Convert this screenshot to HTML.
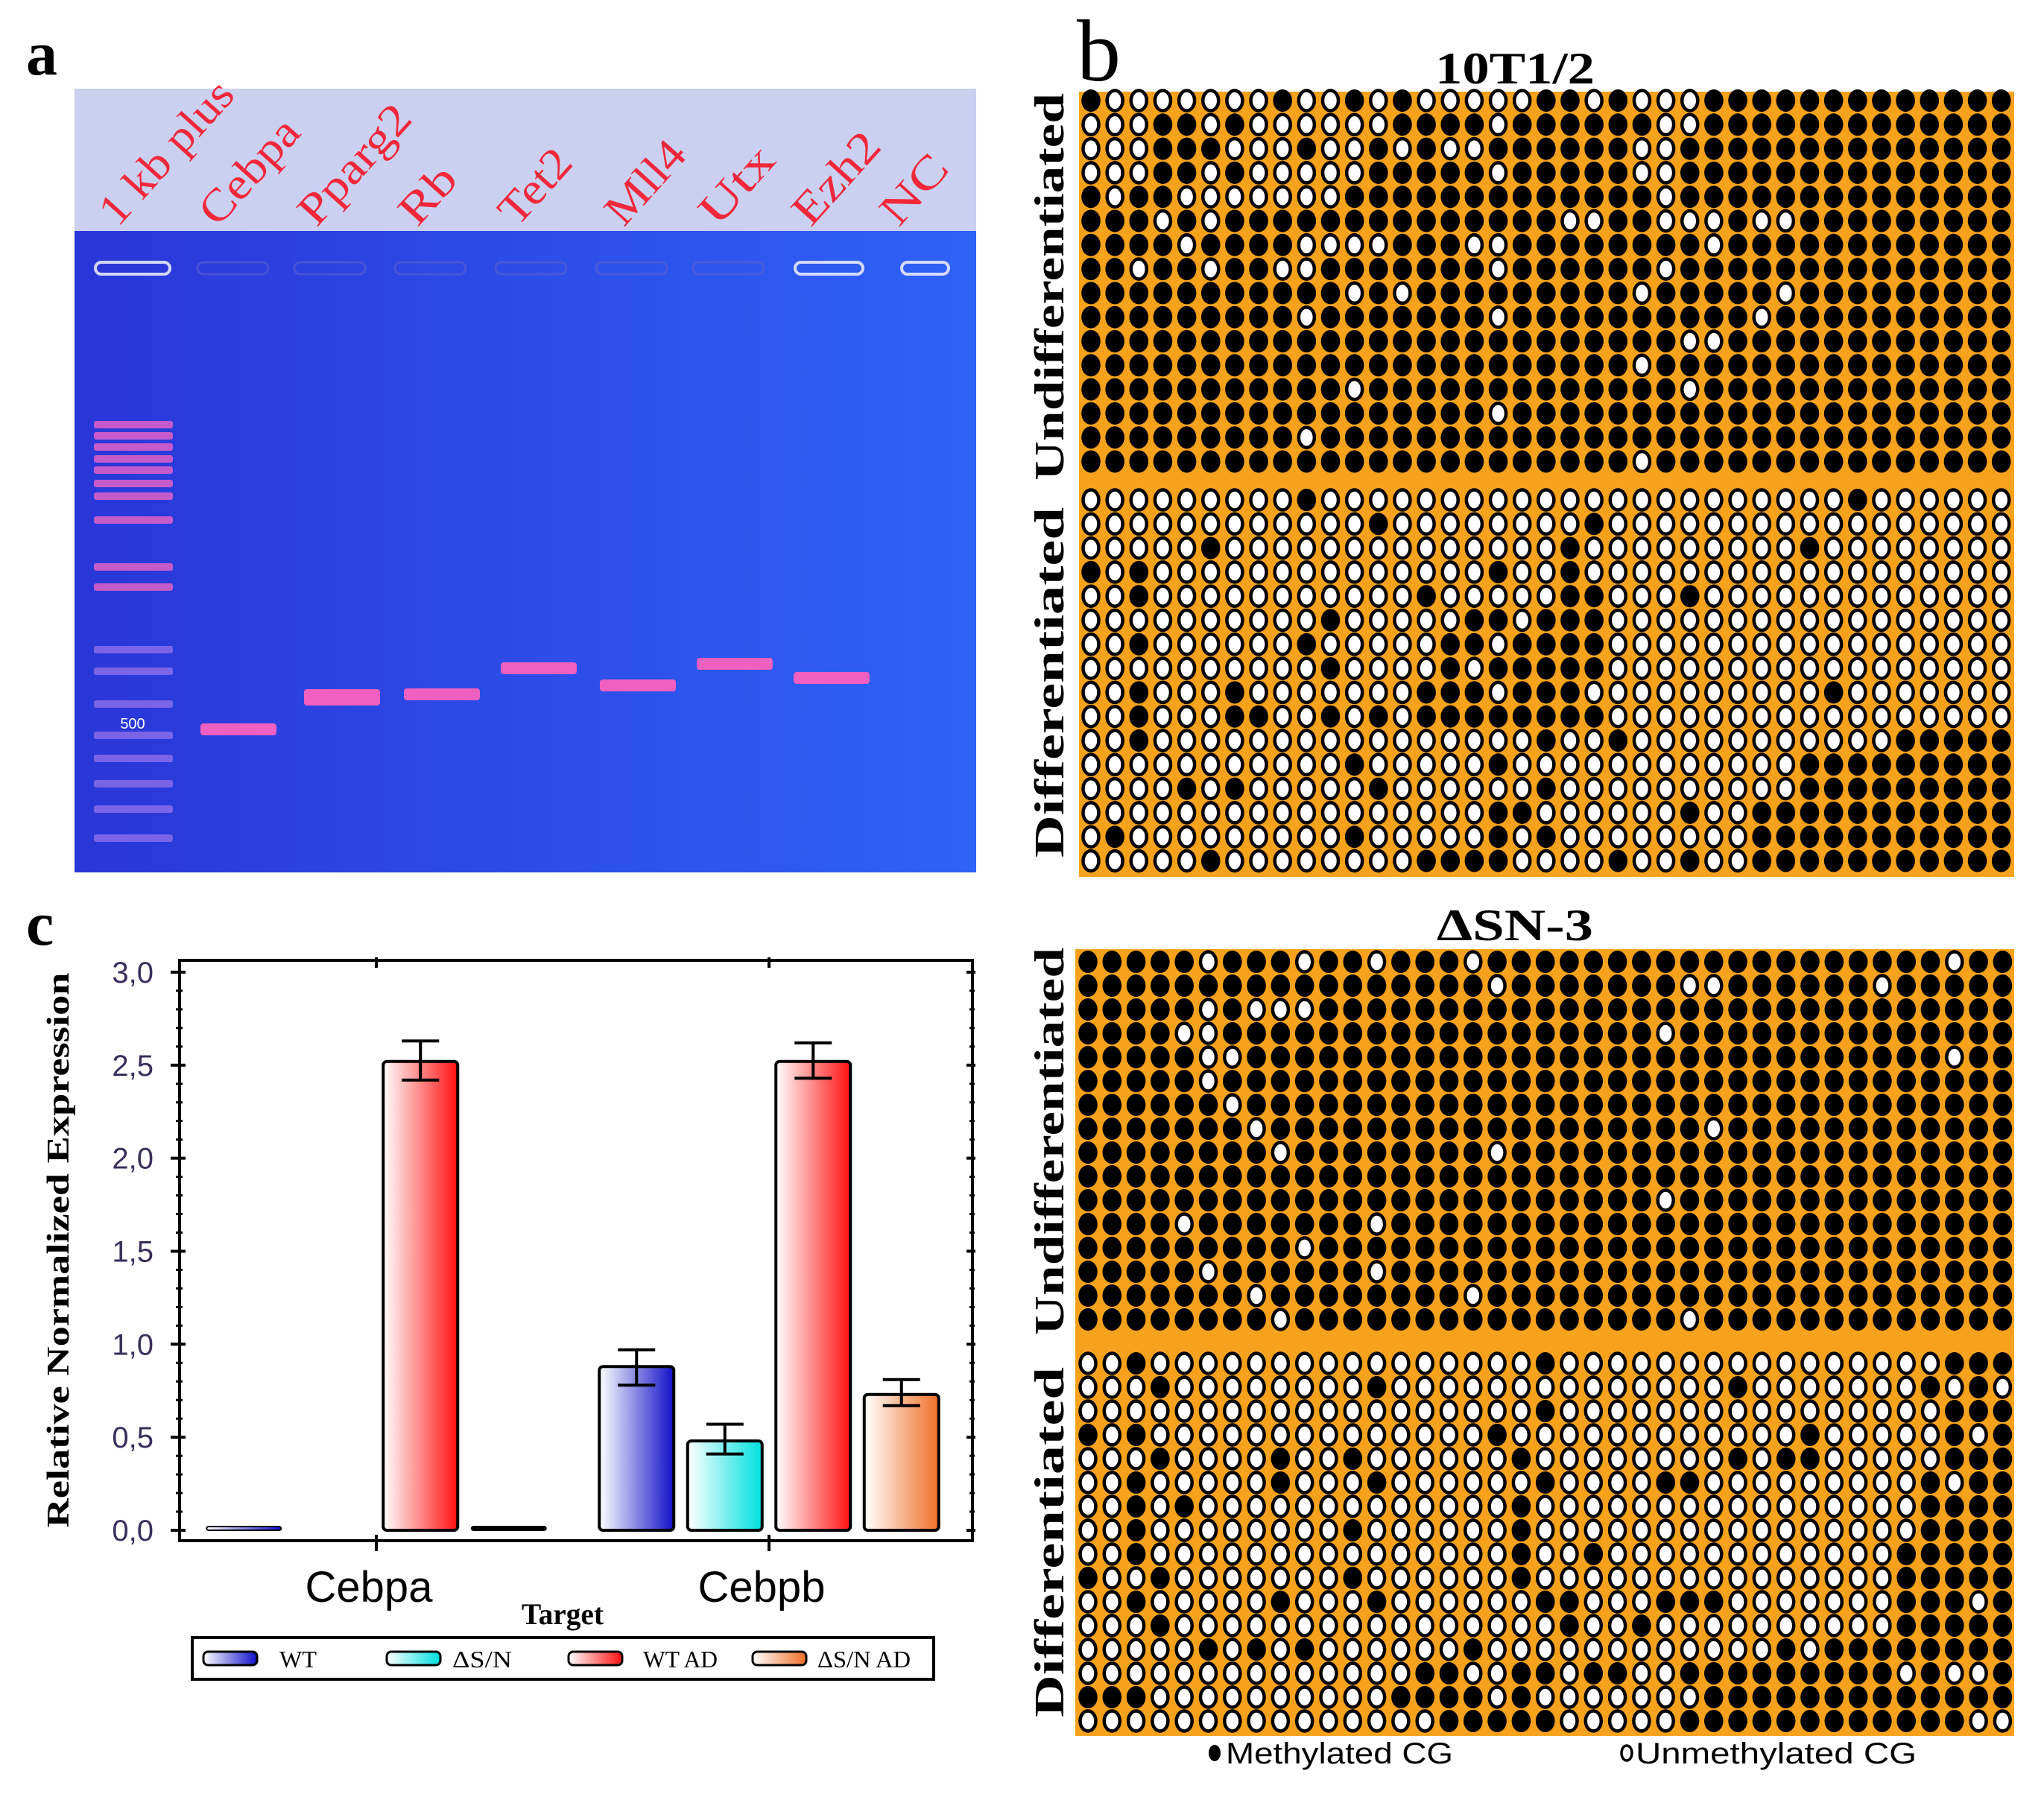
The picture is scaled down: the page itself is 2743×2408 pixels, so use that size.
<!DOCTYPE html>
<html><head><meta charset="utf-8"><style>
html,body{margin:0;padding:0;background:#fff}
svg{display:block}
</style></head><body>
<svg id="fig" xmlns="http://www.w3.org/2000/svg" width="2743" height="2408" viewBox="0 0 2743 2408">
<defs>
<linearGradient id="gelg" x1="0" y1="0" x2="1" y2="0"><stop offset="0" stop-color="#2a36d8"/><stop offset="1" stop-color="#2f62f6"/></linearGradient>
<linearGradient id="gWT" x1="0" y1="0" x2="1" y2="0"><stop offset="0" stop-color="#ffffff"/><stop offset="1" stop-color="#1010c8"/></linearGradient>
<linearGradient id="gSN" x1="0" y1="0" x2="1" y2="0"><stop offset="0" stop-color="#ffffff"/><stop offset="1" stop-color="#00e0e0"/></linearGradient>
<linearGradient id="gWTAD" x1="0" y1="0" x2="1" y2="0"><stop offset="0" stop-color="#ffffff"/><stop offset="1" stop-color="#ff1010"/></linearGradient>
<linearGradient id="gSNAD" x1="0" y1="0" x2="1" y2="0"><stop offset="0" stop-color="#ffffff"/><stop offset="1" stop-color="#f07028"/></linearGradient>
</defs>

<!-- Panel a -->
<text x="35" y="100" font-family="Liberation Serif, serif" font-weight="bold" font-size="84">a</text>
<g>
<rect x="100" y="119" width="1210" height="191" fill="#ccd0f0"/>
<rect x="100" y="310" width="1210" height="861" fill="url(#gelg)"/>
<g id="gelLabels" font-family="Liberation Serif, serif" font-size="60" fill="#f0283a"></g>
<g id="gelWells"></g>
<g id="gelBands"></g>
<text x="178" y="978" font-family="Liberation Sans, sans-serif" font-size="20" fill="#ffffff" text-anchor="middle">500</text>
</g>

<!-- Panel b -->
<text x="1445" y="108" font-family="Liberation Serif, serif" font-size="118">b</text>
<text x="2033" y="112" font-family="Liberation Serif, serif" font-weight="bold" font-size="60" text-anchor="middle" textLength="214" lengthAdjust="spacingAndGlyphs">10T1/2</text>
<text x="2033" y="1262" font-family="Liberation Serif, DejaVu Serif, serif" font-weight="bold" font-size="60" text-anchor="middle" textLength="210" lengthAdjust="spacingAndGlyphs">ΔSN-3</text>
<g id="grids"></g>
<g id="sideLabels" font-family="Liberation Serif, serif" font-weight="bold" font-size="56"></g>
<g>
<ellipse cx="1630" cy="2353" rx="8" ry="11" fill="#000"/>
<text x="1645" y="2367" font-family="Liberation Sans, sans-serif" font-size="40" textLength="305" lengthAdjust="spacingAndGlyphs">Methylated CG</text>
<ellipse cx="2183" cy="2353" rx="7" ry="10" fill="#fff" stroke="#000" stroke-width="3.5"/>
<text x="2195" y="2367" font-family="Liberation Sans, sans-serif" font-size="40" textLength="377" lengthAdjust="spacingAndGlyphs">Unmethylated CG</text>
</g>

<!-- Panel c -->
<text x="35" y="1268" font-family="Liberation Serif, serif" font-weight="bold" font-size="84">c</text>
<g id="chart"></g>
</svg>

<script>
const NS = 'http://www.w3.org/2000/svg';
function mk(tag, attrs, parent) {
  const e = document.createElementNS(NS, tag);
  for (const k in attrs) e.setAttribute(k, attrs[k]);
  if (parent) parent.appendChild(e);
  return e;
}

/* ---------- Gel data ---------- */
const gelLanes = ['1 kb plus','Cebpa','Pparg2','Rb','Tet2','Mll4','Utx','Ezh2','NC'];
const gelLaneX0 = [158,292,425,560,694,837,963,1088,1206];
const gelLabelLen = [238,170,195,85,115,130,120,145,105];
const sampleBandY = [null,979,933,932,897,920,891,910,null];
const ladderBandY = [570,585,600,616,631,649,666,698,761,788,872,901,945,987,1018,1052,1086,1125];

const gL = document.getElementById('gelLabels');
gelLanes.forEach((name, i) => {
  const t = mk('text', {x: gelLaneX0[i], y: 306, transform: `rotate(-48 ${gelLaneX0[i]} 306)`, textLength: gelLabelLen[i], lengthAdjust: 'spacingAndGlyphs'}, gL);
  t.textContent = name;
  
  
});
const gW = document.getElementById('gelWells');
const wellX = [128,265,395,530,665,800,930,1067,1210];
const wellW = [100,95,95,95,95,95,95,91,63];
wellX.forEach((x, i) => {
  const bright = i >= 7 || i === 0;
  const w = mk('rect', {x: x, y: 352, width: wellW[i], height: 16, rx: 8, fill: 'none', stroke: bright ? '#e8e8ff' : '#5a60d0', 'stroke-width': bright ? 4 : 3, opacity: bright ? 0.9 : 0.6}, gW);
  
  
});
const gB = document.getElementById('gelBands');
ladderBandY.forEach((y, i) => {
  const b = mk('rect', {x: 126, y: y - 5, width: 106, height: 10, rx: 3, fill: i < 10 ? '#e060c8' : '#9070e8', opacity: i < 10 ? 0.85 : 0.8}, gB);
  
  
});
const bandX = [null,269,408,542,672,805,935,1065,null];
sampleBandY.forEach((y, i) => {
  if (y === null) return;
  const b = mk('rect', {x: bandX[i], y: y - 8, width: 102, height: i === 2 ? 22 : 16, rx: 4, fill: '#f060c0'}, gB);
  
  
});

/* ---------- Methylation grids ---------- */
const g1Undiff = [[1,2,3,4,5,6,7,9,10,12,14,15,16,17,18,21,23,24,25],[0,1,2,5,7,8,9,10,11,12,17,24,25],[0,1,2,6,7,8,10,11,13,15,16,23,24],[0,1,2,5,7,8,9,10,11,17,23,24],[1,4,5,6,7,8,9,10,24],[3,5,20,21,24,25,26,28,29],[4,9,10,11,12,16,17,26],[2,5,8,9,17,24],[11,13,23,29],[9,17,28],[25,26],[23],[11,25],[17],[9],[23]];
const g1Diff = [[9,32],[12,21],[5,20,30],[0,2,17,20],[2,14,20,21,25],[10,16,17,19,20,21],[2,9,15,16,18,19,20,21],[10,15,17,18,19,20,21],[2,6,14,15,16,18,19,20,31],[2,6,7,10,12,14,15,16,17,18,19,20,21],[2,19,22,34,35,36,37,38],[11,17,30,31,32,33,34,35,36,37,38],[4,6,12,19,30,31,32,33,34,35,36,37,38],[17,18,25,28,29,30,31,32,33,34,35,36,37,38],[1,11,17,19,28,29,30,31,32,33,34,35,36,37,38],[5,14,15,16,17,22,25,28,29,30,31,32,33,34,35,36,37,38]];
const g2Undiff = [[5,9,12,16,36],[17,25,26,33],[5,7,8,9],[4,5,24],[5,6,36],[5],[6],[7,26],[8,17],[],[24],[4,12],[9],[5,12],[7,16],[8,25]];
const g2Diff = [[2,19,36,37,38],[3,12,27,35,37],[19,36,37,38],[0,2,17,30,36,38],[3,8,11,18,27,29,30,36,37,38],[2,8,12,19,24,25,35,37,38],[2,4,18,35,36,37,38],[2,11,18,35,36,37,38],[2,18,21,34,35,36,37,38],[0,3,11,18,34,35,36,37,38],[2,8,12,19,20,24,25,26,34,35,36,38],[3,20,23,34,35,36,37,38],[5,7,9,16,29,31,32,33,34,35,36,37,38],[14,15,18,19,21,22,25,26,27,28,29,30,31,32,33,35,38],[0,1,2,13,14,15,16,18,26,27,28,29,30,31,32,33,34,35,36,37,38],[15,16,17,18,19,25,26,27,28,29,30,31,32,33,34,35,36]];
const nCols = 39;

const gridLayouts = [
  {name:'grid-10t1-2', left:1448, right:2703, top:123, bottom:1177, cx0:1464, px:32.15, uy0:135, dy0:671, py:32.3, undiff:g1Undiff, diff:g1Diff},
  {name:'grid-dsn-3', left:1443, right:2703, top:1274, bottom:2330, cx0:1460, px:32.3, uy0:1291, dy0:1830, py:32.0, undiff:g2Undiff, diff:g2Diff}
];
const gridsG = document.getElementById('grids');
function dot(parent, cx, cy, meth) {
  if (meth) {
    const e = mk('ellipse', {cx: cx, cy: cy, rx: 12.8, ry: 15, fill: '#000'}, parent);
    
    
  } else {
    const e = mk('ellipse', {cx: cx, cy: cy, rx: 10.5, ry: 13.5, fill: '#fff', stroke: '#000', 'stroke-width': 4.5}, parent);
    
    
  }
}
gridLayouts.forEach(L => {
  const g = mk('g', {}, gridsG);
  
  
  mk('rect', {x: L.left, y: L.top, width: L.right - L.left, height: L.bottom - L.top, fill: '#f7a21c'}, g);
  L.undiff.forEach((whites, r) => {
    const cy = L.uy0 + r * L.py;
    for (let c = 0; c < nCols; c++) dot(g, L.cx0 + c * L.px, cy, !whites.includes(c));
  });
  L.diff.forEach((blacks, r) => {
    const cy = L.dy0 + r * L.py;
    for (let c = 0; c < nCols; c++) dot(g, L.cx0 + c * L.px, cy, blacks.includes(c));
  });
});
const sideG = document.getElementById('sideLabels');
const sideLabels = [['Undifferentiated',385,520],['Differentiated',916,470],['Undifferentiated',1532,520],['Differentiated',2070,470]];
sideLabels.forEach(([txt, cy, len]) => {
  const t = mk('text', {x: 1427, y: cy, transform: `rotate(-90 1427 ${cy})`, 'text-anchor': 'middle', textLength: len, lengthAdjust: 'spacingAndGlyphs'}, sideG);
  t.textContent = txt;
  
  
});

/* ---------- Bar chart ---------- */
const categories = ['Cebpa', 'Cebpb'];
const seriesNames = ['WT', 'ΔS/N', 'WT AD', 'ΔS/N AD'];
const seriesFill = ['url(#gWT)', 'url(#gSN)', 'url(#gWTAD)', 'url(#gSNAD)'];
const valWT = [0.02, 0.88];
const valSN = [0.0, 0.48];
const valWTAD = [2.52, 2.52];
const valSNAD = [0.01, 0.73];
const errLoWT = [null, 0.78], errHiWT = [null, 0.97];
const errLoSN = [null, 0.41], errHiSN = [null, 0.57];
const errLoWTAD = [2.42, 2.43], errHiWTAD = [2.63, 2.62];
const errLoSNAD = [null, 0.67], errHiSNAD = [null, 0.81];
const yTicks = [0, 0.5, 1.0, 1.5, 2.0, 2.5, 3.0];
const yTickLabels = ['0,0', '0,5', '1,0', '1,5', '2,0', '2,5', '3,0'];

const PL = 241, PR = 1305, PT = 1289, PB = 2068;
const yScale = v => 2054 - v * 249.7;
const catCenter = [505, 1032];
const slotW = 118.5, barW = 100;
const xBar = (ci, si) => catCenter[ci] + (si - 1.5) * slotW - barW / 2;

const ch = document.getElementById('chart');
const frame = mk('rect', {x: PL, y: PT, width: PR - PL, height: PB - PT, fill: 'none', stroke: '#000', 'stroke-width': 4}, ch);


for (let i = 0; i <= 30; i++) {
  const v = i / 10, y = yScale(v), major = i % 5 === 0;
  mk('line', {x1: PL - (major ? 12 : 5), x2: PL + (major ? 8 : 4), y1: y, y2: y, stroke: '#000', 'stroke-width': major ? 4 : 3}, ch);
  mk('line', {x1: PR - (major ? 8 : 4), x2: PR + (major ? 4 : 3), y1: y, y2: y, stroke: '#000', 'stroke-width': major ? 4 : 3}, ch);
}
yTicks.forEach((v, i) => {
  const t = mk('text', {x: 206, y: yScale(v) + 14, 'text-anchor': 'end', 'font-family': 'Liberation Sans, sans-serif', 'font-size': 40, fill: '#3a2e5c'}, ch);
  t.textContent = yTickLabels[i];
  
  
});
catCenter.forEach((x, i) => {
  mk('line', {x1: x, x2: x, y1: PB - 8, y2: PB + 14, stroke: '#000', 'stroke-width': 4}, ch);
  mk('line', {x1: x, x2: x, y1: PT - 4, y2: PT + 10, stroke: '#000', 'stroke-width': 4}, ch);
  const t = mk('text', {x: x - 10, y: 2150, 'text-anchor': 'middle', 'font-family': 'Liberation Sans, sans-serif', 'font-size': 58, fill: '#000'}, ch);
  t.textContent = categories[i];
  
  
});
const xt = mk('text', {x: 755, y: 2180, 'text-anchor': 'middle', 'font-family': 'Liberation Serif, serif', 'font-weight': 'bold', 'font-size': 40, textLength: 110, lengthAdjust: 'spacingAndGlyphs'}, ch);
xt.textContent = 'Target';


const yt = mk('text', {x: 92, y: 1678, transform: 'rotate(-90 92 1678)', 'text-anchor': 'middle', 'font-family': 'Liberation Serif, serif', 'font-weight': 'bold', 'font-size': 42, textLength: 745, lengthAdjust: 'spacingAndGlyphs'}, ch);
yt.textContent = 'Relative Normalized Expression';



const allVals = [valWT, valSN, valWTAD, valSNAD];
const allLo = [errLoWT, errLoSN, errLoWTAD, errLoSNAD];
const allHi = [errHiWT, errHiSN, errHiWTAD, errHiSNAD];
allVals.forEach((vals, si) => {
  vals.forEach((v, ci) => {
    if (v <= 0) return;
    const x = xBar(ci, si), y0 = yScale(0), y1 = yScale(v);
    const h = Math.max(y0 - y1, 5);
    const small = v < 0.05;
    const b = mk('rect', {x: x, y: y0 - h, width: barW, height: h, rx: small ? 3 : 5, fill: small && si === 3 ? '#000' : seriesFill[si], stroke: '#000', 'stroke-width': small ? 2 : 4}, ch);
    
    
    const lo = allLo[si][ci], hi = allHi[si][ci];
    if (lo !== null) {
      const cx = x + barW / 2;
      const eg = mk('g', {stroke: '#000', 'stroke-width': 4}, ch);
      
      
      mk('line', {x1: cx, x2: cx, y1: yScale(hi), y2: yScale(lo)}, eg);
      mk('line', {x1: cx - 25, x2: cx + 25, y1: yScale(hi), y2: yScale(hi)}, eg);
      mk('line', {x1: cx - 25, x2: cx + 25, y1: yScale(lo), y2: yScale(lo)}, eg);
    }
  });
});

/* legend */
const lg = mk('g', {}, ch);


mk('rect', {x: 258, y: 2198, width: 995, height: 56, fill: '#fff', stroke: '#000', 'stroke-width': 4}, lg);
const legSwX = [273, 519, 763, 1010];
const legTxX = [375, 607, 863, 1097];
const legTxLen = [50, 80, 100, 125];
seriesNames.forEach((n, i) => {
  const s = mk('rect', {x: legSwX[i], y: 2217, width: 72, height: 18, rx: 6, fill: seriesFill[i], stroke: '#000', 'stroke-width': 3}, lg);
  
  
  const t = mk('text', {x: legTxX[i], y: 2238, 'font-family': 'Liberation Serif, DejaVu Serif, serif', 'font-size': 32, textLength: legTxLen[i], lengthAdjust: 'spacingAndGlyphs'}, lg);
  t.textContent = n;
  
  
});
</script>
</body></html>
